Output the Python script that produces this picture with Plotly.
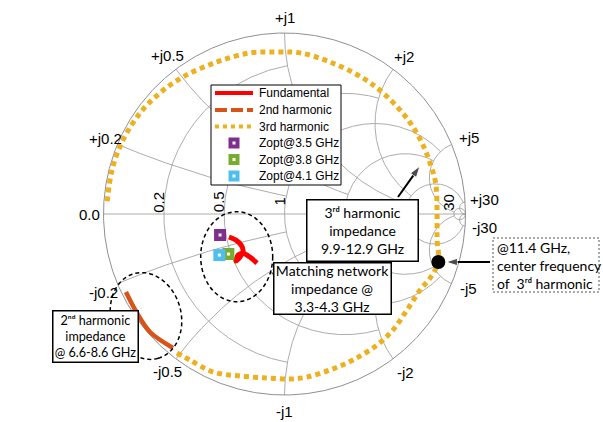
import numpy as np
import plotly.graph_objects as go

W, H = 603, 422
CX, CY, R = 284.5, 214.0, 181.0   # chart centre / radius in pixels

# ---- Smith grid definition (circle value, clipping limit) ----
grid_values = [0.2, 0.5, 1, 2, 5, 30]
grid_limits = [1, 2, 5, 5, 30, np.inf]
reactance_ticks = [0.2, 0.5, 1, 2, 5, 30]
resistance_ticks = [0.2, 0.5, 1, 30]

# ---- measured reflection coefficients (real / imag) ----
fund_re = [-0.307, -0.268, -0.240, -0.229, -0.246, -0.268, -0.257, -0.229, -0.191, -0.152]
fund_im = [-0.127, -0.144, -0.171, -0.204, -0.238, -0.260, -0.227, -0.215, -0.238, -0.271]

h2_re = [-0.876, -0.815, -0.743, -0.616]
h2_im = [-0.431, -0.547, -0.652, -0.740]

h3_re = [-0.594, -0.522, -0.395, -0.246, -0.097, 0.030, 0.124, 0.251, 0.378, 0.511,
         0.599, 0.677, 0.749, 0.804, 0.850, 0.843, 0.843, 0.835, 0.804, 0.765,
         0.710, 0.638, 0.544, 0.434, 0.251, 0.086, -0.041, -0.191, -0.373, -0.561,
         -0.688, -0.798, -0.892, -0.953, -0.981]
h3_im = [-0.768, -0.807, -0.873, -0.895, -0.906, -0.912, -0.901, -0.862, -0.807, -0.724,
         -0.641, -0.530, -0.420, -0.354, -0.265, -0.144, 0.006, 0.171, 0.282, 0.381,
         0.481, 0.575, 0.669, 0.751, 0.840, 0.890, 0.895, 0.890, 0.840, 0.757,
         0.669, 0.558, 0.409, 0.243, 0.050]

zopt_names = ["Zopt@3.5 GHz", "Zopt@3.8 GHz", "Zopt@4.1 GHz"]
zopt_re = [-0.356, -0.310, -0.360]
zopt_im = [-0.116, -0.221, -0.227]
zopt_colors = ["#7E2F8E", "#77AC30", "#4DBEEE"]

center_re = [0.850]   # 11.4 GHz point of the 3rd harmonic sweep
center_im = [-0.265]

RED, ORANGE, YELLOW = "#FF0000", "#D95319", "#EDB120"
GRID = "#a3a3a3"
LABEL_FONT = dict(family="Liberation Sans, Arial", size=15, color="black")
BOX_FONT = dict(family="Lato, DejaVu Sans", size=14, color="black")


def to_gamma(z):
    z = np.asarray(z, dtype=complex)
    return (z - 1) / (z + 1)


def grid_xy():
    xs, ys = [], []

    def add(g):
        xs.extend(g.real.tolist() + [None])
        ys.extend(g.imag.tolist() + [None])

    for v, lim in zip(grid_values, grid_limits):
        L = 1e5 if np.isinf(lim) else lim
        t = np.sinh(np.linspace(-np.arcsinh(L), np.arcsinh(L), 1201))
        add(to_gamma(v + 1j * t))                       # constant resistance
        r = np.concatenate([[0.0], np.logspace(-3, np.log10(L), 700)])
        add(to_gamma(r + 1j * v))                       # +reactance
        add(to_gamma(r - 1j * v))                       # -reactance
    add(np.array([-1 + 0j, 1 + 0j]))                    # real axis
    return xs, ys


def px(x):
    return x / W


def py(y):
    return 1 - y / H


def gxy(x, y):
    """pixel position -> chart (reflection-plane) coordinates"""
    return (x - CX) / R, (CY - y) / R


fig = go.Figure()

gx, gy = grid_xy()
fig.add_trace(go.Scatter(x=gx, y=gy, mode="lines", line=dict(color=GRID, width=0.9),
                         hoverinfo="skip", showlegend=False))
th = np.linspace(0, 2 * np.pi, 721)
fig.add_trace(go.Scatter(x=np.cos(th), y=np.sin(th), mode="lines",
                         line=dict(color="#8f8f8f", width=1),
                         hoverinfo="skip", showlegend=False))

fig.add_trace(go.Scatter(x=h3_re, y=h3_im, mode="lines", name="3rd harmonic",
                         line=dict(color=YELLOW, width=5, dash="5px,4px", shape="spline"),
                         showlegend=False))
fig.add_trace(go.Scatter(x=h2_re, y=h2_im, mode="lines", name="2nd harmonic",
                         line=dict(color=ORANGE, width=4.5, shape="spline"),
                         showlegend=False))
fig.add_trace(go.Scatter(x=fund_re, y=fund_im, mode="lines", name="Fundamental",
                         line=dict(color=RED, width=5, shape="spline", smoothing=0.6),
                         showlegend=False))
for n, xr, xi, c in zip(zopt_names, zopt_re, zopt_im, zopt_colors):
    fig.add_trace(go.Scatter(x=[xr], y=[xi], mode="markers", name=n,
                             marker=dict(symbol="square", size=12, color=c),
                             showlegend=False))
    fig.add_trace(go.Scatter(x=[xr], y=[xi], mode="markers",
                             marker=dict(symbol="square", size=3, color="white"),
                             hoverinfo="skip", showlegend=False))
fig.add_trace(go.Scatter(x=center_re, y=center_im, mode="markers",
                         marker=dict(symbol="circle", size=14, color="black"),
                         showlegend=False))

# callout arrows (tail -> head), drawn as lines with an arrow marker at the head
for tx, ty, hx, hy in [(398, 197, 420, 166), (302, 288, 269, 271.5),
                       (95, 338, 119, 331), (490, 262, 446, 262)]:
    (x0, y0), (x1, y1) = gxy(tx, ty), gxy(hx, hy)
    fig.add_trace(go.Scatter(x=[x0, x1], y=[y0, y1], mode="lines+markers",
                             line=dict(color="black", width=2),
                             marker=dict(symbol="arrow", size=[0, 12], color="black",
                                         angleref="previous"),
                             hoverinfo="skip", showlegend=False))

annotations = []
# reactance labels around the rim
rim_offsets = {0.2: (-12, 6), 0.5: (-8, 14), 1: (0, 16), 2: (11, 13), 5: (17, 7), 30: (19, 2),
               -0.2: (-14, -9), -0.5: (-8, -13), -1: (0, -16), -2: (12, -14), -5: (17, -5),
               -30: (19, -1)}
for v in reactance_ticks:
    for s in (1, -1):
        g = to_gamma(s * 1j * v)
        dx, dy = rim_offsets[s * v]
        annotations.append(dict(x=float(g.real), y=float(g.imag), xref="x", yref="y",
                                text=("+j" if s > 0 else "-j") + f"{v:g}", showarrow=False,
                                xshift=dx, yshift=dy, font=LABEL_FONT))
annotations.append(dict(x=-1, y=0, xref="x", yref="y", text="0.0", showarrow=False,
                        xshift=-14, yshift=0, font=LABEL_FONT))
for v in resistance_ticks:
    g = to_gamma(v)
    annotations.append(dict(x=float(g.real), y=0, xref="x", yref="y", text=f"{v:g}",
                            showarrow=False, textangle=-90, xshift=-6, yshift=12,
                            font=LABEL_FONT))

# legend (drawn by hand to keep the compact row spacing)
shapes = [dict(type="rect", xref="paper", yref="paper", x0=px(211), x1=px(341),
               y0=py(185), y1=py(85), line=dict(color="black", width=1), fillcolor="white")]
rows = [93, 110, 126.5, 143, 159.5, 176]
legend_lines = [("Fundamental", RED, "solid"), ("2nd harmonic", ORANGE, "12px,4px"),
                ("3rd harmonic", YELLOW, "4px,4px")]
for (name, col, dash), yy in zip(legend_lines, rows[:3]):
    shapes.append(dict(type="line", xref="paper", yref="paper", x0=px(215), x1=px(253),
                       y0=py(yy), y1=py(yy), line=dict(color=col, width=4, dash=dash)))
for (name, col), yy in zip(zip(zopt_names, zopt_colors), rows[3:]):
    shapes.append(dict(type="rect", xref="paper", yref="paper", x0=px(228.5), x1=px(239.5),
                       y0=py(yy + 5.5), y1=py(yy - 5.5), line=dict(width=0), fillcolor=col))
    shapes.append(dict(type="rect", xref="paper", yref="paper", x0=px(232.5), x1=px(235.5),
                       y0=py(yy + 1.5), y1=py(yy - 1.5), line=dict(width=0), fillcolor="white"))
legend_names = [n for n, _, _ in legend_lines] + zopt_names
for name, yy in zip(legend_names, rows):
    annotations.append(dict(x=px(257), y=py(yy), xref="paper", yref="paper", text=name,
                            xanchor="left", yanchor="middle", showarrow=False,
                            font=dict(family="Liberation Sans, Arial", size=12, color="black")))

# dashed ellipses marking the regions
DASH = dict(color="black", width=1.5, dash="4px,3px")
shapes.append(dict(type="circle", xref="paper", yref="paper", x0=px(200.7), x1=px(272.7),
                   y0=py(301.7), y1=py(211.7), line=DASH))
t = np.linspace(0, 2 * np.pi, 121)
ang = np.deg2rad(16)
ex = 146 + 44 * np.cos(t) * np.sin(ang) + 35 * np.sin(t) * np.cos(ang)
ey = 316 + 44 * np.cos(t) * np.cos(ang) - 35 * np.sin(t) * np.sin(ang)
path = "M" + " L".join(f"{px(a):.5f},{py(b):.5f}" for a, b in zip(ex, ey)) + " Z"
shapes.append(dict(type="path", xref="paper", yref="paper", path=path, line=DASH))

# dotted frame of the centre-frequency note
shapes.append(dict(type="rect", xref="paper", yref="paper", x0=px(493), x1=px(599),
                   y0=py(292), y1=py(238), line=dict(color="#555555", width=1, dash="2px,2px"),
                   fillcolor="white"))

# callout boxes
boxes = [((306, 199, 419, 262), "3\u02b3\u1d48 harmonic<br>impedance<br>9.9-12.9 GHz", 14),
         ((273, 288, 392, 341), "Matching network<br>impedance @<br>3.3-4.3 GHz", 14),
         ((8, 336, 95, 389), "2\u207f\u1d48 harmonic<br>impedance<br>@ 6.6-8.6 GHz", 12.6)]
for (x0, y0, x1, y1), txt, fs in boxes:
    annotations.append(dict(x=px((x0 + x1) / 2), y=py((y0 + y1) / 2), xref="paper", yref="paper",
                            text=txt, showarrow=False, width=x1 - x0 - 3, height=y1 - y0 - 3,
                            bgcolor="white", bordercolor="black", borderwidth=1.5, borderpad=0,
                            font=dict(BOX_FONT, size=fs)))
annotations.append(dict(x=px(495), y=py(265), xref="paper", yref="paper",
                        text="@11.4 GHz,<br>center frequency<br>of\u00a0 3\u02b3\u1d48 harmonic",
                        xanchor="left", yanchor="middle", align="left", showarrow=False,
                        font=BOX_FONT))

fig.update_layout(
    width=W, height=H, margin=dict(l=0, r=0, t=0, b=0),
    paper_bgcolor="white", plot_bgcolor="white", showlegend=False,
    xaxis=dict(range=[-CX / R, (W - CX) / R], visible=False, fixedrange=True),
    yaxis=dict(range=[(CY - H) / R, CY / R], visible=False, fixedrange=True),
    shapes=shapes, annotations=annotations,
)

fig.write_html("out.html")
